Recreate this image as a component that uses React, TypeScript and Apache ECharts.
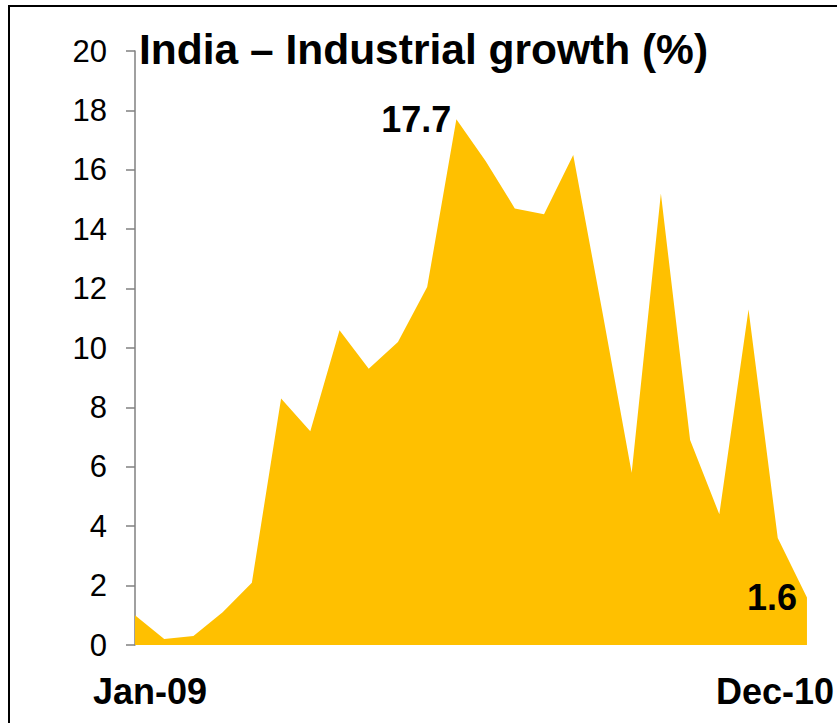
import React, { useEffect, useRef } from "react";
import * as echarts from "echarts";

const months = [
  "Jan-09", "Feb-09", "Mar-09", "Apr-09", "May-09", "Jun-09",
  "Jul-09", "Aug-09", "Sep-09", "Oct-09", "Nov-09", "Dec-09",
  "Jan-10", "Feb-10", "Mar-10", "Apr-10", "May-10", "Jun-10",
  "Jul-10", "Aug-10", "Sep-10", "Oct-10", "Nov-10", "Dec-10",
];
const growth = [
  1.0, 0.2, 0.3, 1.1, 2.1, 8.3, 7.2, 10.6, 9.3, 10.2, 12.05, 17.7,
  16.3, 14.7, 14.5, 16.5, 11.2, 5.8, 15.2, 6.9, 4.4, 11.3, 3.6, 1.6,
];
const labelled = [11, 23];
const titleText = "India – Industrial growth (%)";

const FONT = "'Liberation Sans', Arial, Helvetica, sans-serif";

export default function App() {
  const ref = useRef<HTMLDivElement>(null);
  useEffect(() => {
    if (!ref.current) return;
    const chart = echarts.init(ref.current, null, { renderer: "svg" });
    const last = months.length - 1;
    chart.setOption({
      animation: false,
      backgroundColor: "#ffffff",
      title: {
        text: titleText,
        left: 139,
        top: 28,
        padding: 0,
        textStyle: { fontFamily: FONT, fontSize: 42.5, fontWeight: "bold", color: "#000" },
      },
      graphic: [
        {
          type: "rect",
          z: -10,
          shape: { x: 9, y: 6, width: 1000, height: 1000 },
          style: { fill: "none", stroke: "#000", lineWidth: 2 },
        },
      ],
      grid: { left: 135, right: 23, top: 51, bottom: 78, containLabel: false },
      xAxis: {
        type: "category",
        data: months,
        boundaryGap: false,
        axisLine: { show: false },
        axisTick: { show: false },
        splitLine: { show: false },
        axisLabel: {
          interval: (i: number) => i === 0 || i === last,
          margin: 28,
          fontFamily: FONT,
          fontSize: 36,
          fontWeight: "bold",
          color: "#000",
          formatter: (v: string, i: number) => (i === 0 ? `{a|${v}}` : `{b|${v}}`),
          rich: {
            a: { fontFamily: FONT, fontSize: 36, fontWeight: "bold", color: "#000", padding: [0, 0, 0, 30] },
            b: { fontFamily: FONT, fontSize: 36, fontWeight: "bold", color: "#000", padding: [0, 64, 0, 0] },
          },
        },
      },
      yAxis: {
        type: "value",
        min: 0,
        max: 20,
        interval: 2,
        axisLine: { show: true, lineStyle: { color: "#808080", width: 1.5 } },
        axisTick: { show: true, inside: false, length: 9, lineStyle: { color: "#808080", width: 1.5 } },
        splitLine: { show: false },
        axisLabel: { margin: 28, fontFamily: FONT, fontSize: 31, color: "#000" },
      },
      series: [
        {
          type: "line",
          data: growth.map((v, i) =>
            labelled.includes(i)
              ? {
                  value: v,
                  label: {
                    show: true,
                    position: "left",
                    distance: i === last ? 10 : 5,
                    formatter: String(v),
                    fontFamily: FONT,
                    fontSize: 36,
                    fontWeight: "bold",
                    color: "#000",
                  },
                }
              : v
          ),
          symbol: "circle",
          symbolSize: 0,
          showSymbol: true,
          lineStyle: { width: 0, color: "#FFC000" },
          itemStyle: { color: "#FFC000" },
          areaStyle: { color: "#FFC000", opacity: 1 },
          z: 2,
        },
      ],
    });
    return () => chart.dispose();
  }, []);
  return (
    <div
      ref={ref}
      style={{ position: "fixed", left: 0, top: 0, width: 837, height: 723, background: "#fff" }}
    />
  );
}
